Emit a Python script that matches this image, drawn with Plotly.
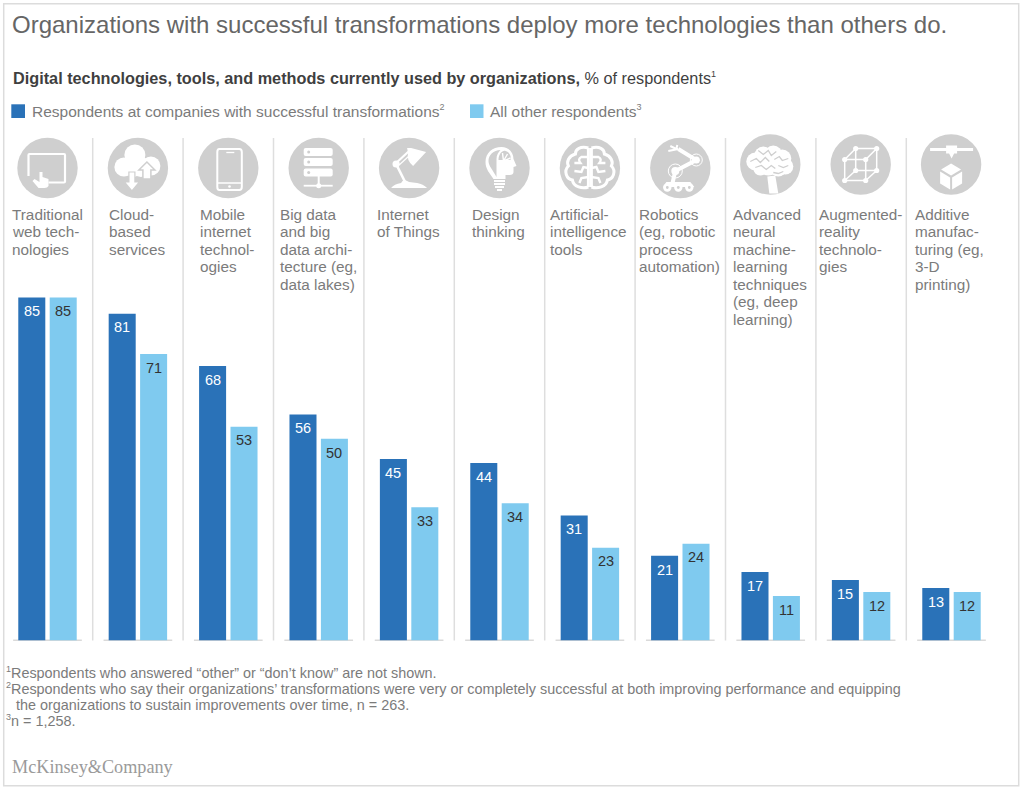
import re
import plotly.graph_objects as go

# ---------- data ----------
category_lines = [
    ["Traditional", "web tech-", "nologies"],
    ["Cloud-", "based", "services"],
    ["Mobile", "internet", "technol-", "ogies"],
    ["Big data", "and big", "data archi-", "tecture (eg,", "data lakes)"],
    ["Internet", "of Things"],
    ["Design", "thinking"],
    ["Artificial-", "intelligence", "tools"],
    ["Robotics", "(eg, robotic", "process", "automation)"],
    ["Advanced", "neural", "machine-", "learning", "techniques", "(eg, deep", "learning)"],
    ["Augmented-", "reality", "technolo-", "gies"],
    ["Additive", "manufac-", "turing (eg,", "3-D", "printing)"],
]
successful = [85, 81, 68, 56, 45, 44, 31, 21, 17, 15, 13]
others = [85, 71, 53, 50, 33, 34, 23, 24, 11, 12, 12]
SUP = '<sup><span style="font-size:9px">%s</span></sup>'
series_names = [
    "Respondents at companies with successful transformations" + SUP % "2",
    "All other respondents" + SUP % "3",
]
title_text = "Organizations with successful transformations deploy more technologies than others do."
subtitle_text = "<b>Digital technologies, tools, and methods currently used by organizations,</b> % of respondents" + SUP % "1"
footnotes = [
    SUP % "1" + "Respondents who answered “other” or “don’t know” are not shown.",
    SUP % "2" + "Respondents who say their organizations’ transformations were very or completely successful at both improving performance and equipping",
    " the organizations to sustain improvements over time, n = 263.",
    SUP % "3" + "n = 1,258.",
]
source_text = "McKinsey&Company"

# ---------- layout constants ----------
W, H = 1024, 790
DARK, LIGHT = "#2a72b8", "#7fcaef"
GREY = "#7b7b7b"
ICON = "#cfcfcf"
FONT = "Liberation Sans"
BASE_Y = 640.5
PX_PER_UNIT = 4.035
Y_MAX = 90
PLOT_L, PLOT_R = 2.3, 996.7
BAR_LABEL_XSHIFT = 15.7
BAR_LABEL_YSHIFT = -13.8
label_x = [12, 109, 199.5, 279.5, 377, 472, 550, 639, 732.5, 818.5, 915]
icon_cx = [47.5, 137.9, 228.3, 318.7, 409.1, 499.5, 589.9, 680.3, 770.3, 860.7, 951.1]
icon_cy = [168, 168, 168, 168, 168, 168, 168, 168, 164.5, 164.5, 164.5]

categories = [" ".join(l) for l in category_lines]


def px(x):
    return x / W


def py(y):
    return 1 - y / H


def text(x, y, s, size=14, color=GREY, family=FONT):
    return dict(
        xref="paper", yref="paper", x=px(x), y=py(y), text=s, showarrow=False,
        xanchor="left", yanchor="middle", align="left",
        font=dict(size=size, color=color, family=family), borderpad=0, borderwidth=0,
    )


shapes, annotations = [], []


def rect_px(x0, y0, x1, y1, fill):
    shapes.append(dict(type="rect", xref="paper", yref="paper", x0=px(x0), x1=px(x1),
                       y0=py(y0), y1=py(y1), fillcolor=fill, line=dict(width=0)))


# ---------- icon drawing helpers ----------
def path(cx, cy, d, fill=None, stroke=None, w=1.5):
    toks = re.findall(r"[MLCQZ]|-?\d+\.?\d*", d)
    s, is_x = "", True
    for t in toks:
        if t in "MLCQZ":
            s += t
            is_x = True
        elif is_x:
            s += f" {px(cx + float(t)):.5f}"
            is_x = False
        else:
            s += f" {py(cy + float(t)):.5f} "
            is_x = True
    shapes.append(dict(type="path", xref="paper", yref="paper", path=s,
                       fillcolor=fill if fill else "rgba(0,0,0,0)",
                       line=dict(color=stroke if stroke else "rgba(0,0,0,0)", width=w if stroke else 0)))


def circ(cx, cy, x, y, r, fill=None, stroke=None, w=1.5):
    shapes.append(dict(type="circle", xref="paper", yref="paper",
                       x0=px(cx + x - r), x1=px(cx + x + r), y0=py(cy + y - r), y1=py(cy + y + r),
                       fillcolor=fill if fill else "rgba(0,0,0,0)",
                       line=dict(color=stroke if stroke else "rgba(0,0,0,0)", width=w if stroke else 0)))


WH = "white"


def icon_tablet(c, y):
    path(c, y, "M -19 8 L -19 -13 Q -19 -14 -18 -14 L 16.5 -14 Q 17.5 -14 17.5 -13 L 17.5 13.5 Q 17.5 14.5 16.5 14.5 L 1 14.5", stroke=WH, w=2.2)
    path(c, y, "M -8 4 L -5 4 L -5 9 L 1 11 L 1 18 Q 0 20 -3 20 L -9 20 L -15 13 L -13 11 L -8 14 Z", fill=WH)


def icon_cloud(c, y):
    for (a, b, r) in [(-3, -13, 10.5), (-14, -1, 9.5), (13, -2, 9.5), (3, -1, 10), (-5, 1, 8)]:
        circ(c, y, a, b, r, fill=WH)
    path(c, y, "M 9 -6 L 17 2 L 13 2 L 13 11 L 5 11 L 5 2 L 1 2 Z", fill=WH, stroke=ICON, w=1.5)
    path(c, y, "M -9 4 L -3 4 L -3 14 L 1.5 14 L -6 23 L -13.5 14 L -9 14 Z", fill=WH, stroke=ICON, w=1.2)


def icon_phone(c, y):
    path(c, y, "M -9 -19 L 11 -19 Q 13.5 -19 13.5 -16 L 13.5 19 Q 13.5 22 11 22 L -9 22 Q -11 22 -11 19 L -11 -16 Q -11 -19 -9 -19 Z", stroke=WH, w=2)
    path(c, y, "M -2 -15.5 L 6 -15.5", stroke=WH, w=1.3)
    path(c, y, "M -11 15 L 13 15", stroke=WH, w=1.5)
    circ(c, y, 1.2, 18.5, 1.3, fill=WH)


def icon_server(c, y):
    for top in (-20, -10, 0.5):
        path(c, y, f"M -13 {top} L 12 {top} Q 14 {top} 14 {top + 2} L 14 {top + 6} Q 14 {top + 8} 12 {top + 8} L -13 {top + 8} Q -15 {top + 8} -15 {top + 6} L -15 {top + 2} Q -15 {top} -13 {top} Z", fill=WH)
        circ(c, y, -10, top + 4, 1.5, fill=ICON)
    path(c, y, "M 0 8 L 0 18", stroke=WH, w=2)
    path(c, y, "M -15 17.7 L 14 17.7", stroke=WH, w=1.8)
    circ(c, y, 0, 17.7, 2.5, fill=WH)


def icon_lamp(c, y):
    path(c, y, "M -18 20 L 18 20 Q 14 16 8 15 L 0 14 Q -6 10 -8 15 Q -15 16 -18 20 Z", fill=WH)
    path(c, y, "M -4 14 L -13 -4", stroke=WH, w=2.6)
    path(c, y, "M -13 -5 L 0 -17", stroke=WH, w=2.2)
    path(c, y, "M -10 -3 L 1 -13", stroke=WH, w=1.2)
    circ(c, y, -13, -4, 3.6, fill=WH)
    path(c, y, "M -2 -20 L 2 -20 L 17 -16 L 4 -2 Q -3 -8 -1 -15 Z", fill=WH)


def icon_head(c, y):
    path(c, y, "M -6 11 C -10 5 -14 1 -14 -6 C -14 -15 -7 -21 2 -21 C 10 -21 14 -15 14 -9 L 17 -2 L 14 -1 L 14 4 Q 14 7 10 7 L 6 7 L 6 11 Z", fill=WH)
    path(c, y, "M -3 9 L -3 -9 C -3 -13 -1 -16 1 -18 C -6 -18 -11 -13 -11 -7 C -11 -2 -6 3 -3 9 Z", fill=ICON)
    path(c, y, "M -1 -8 C -1 -14 3 -18 6 -17 C 10 -16 12 -12 11 -8 Z", fill=ICON)
    path(c, y, "M 4 -7 L 3 -15 M 4 -7 L 8 -14 M 4 -7 L 11 -10", stroke=WH, w=1.4)
    for (t, wd) in [(13, 5.5), (16, 5.5), (19, 4.5), (22, 2.5)]:
        path(c, y, f"M {-wd} {t} L {wd} {t}", stroke=WH, w=2)


def icon_ai_brain(c, y):
    for s in (-1, 1):
        ox = 1.5 * s
        m = lambda v: ox + s * v
        p = (f"M {m(0)} -20 C {m(8)} -22 {m(13)} -19 {m(13)} -14 C {m(20)} -12 {m(22)} -6 {m(20)} -2 "
             f"C {m(25)} 3 {m(22)} 11 {m(16)} 12 C {m(15)} 19 {m(6)} 21 {m(0)} 19")
        path(c, y, p, stroke=WH, w=3)
        path(c, y, f"M {m(0)} -20 L {m(0)} 19", stroke=WH, w=3)
        path(c, y, f"M {m(0)} -11 L {m(7)} -11 Q {m(11)} -9 {m(8)} -5 L {m(14)} -5", stroke=WH, w=2.4)
        path(c, y, f"M {m(0)} 0 L {m(5)} -1 L {m(7)} 4 L {m(14)} 3", stroke=WH, w=2.4)
        path(c, y, f"M {m(0)} 9 L {m(7)} 10 L {m(9)} 15", stroke=WH, w=2.4)


def icon_robot(c, y):
    path(c, y, "M -8 16 L -5 3 L 16 -8 L -2 -19", stroke=WH, w=4)
    circ(c, y, -5, 3, 4, fill=WH)
    circ(c, y, -5, 3, 7, stroke=WH, w=1)
    circ(c, y, 16, -8, 3.5, fill=WH)
    circ(c, y, 16, -8, 6, stroke=WH, w=1)
    path(c, y, "M -2 -19 L -12 -17 M -3 -23 L -4 -19 L -10 -22", stroke=WH, w=2)
    path(c, y, "M -14 14 L 10 14 L 14 19 L -17 19 Z", fill=WH)
    for a in (-13, -2, 9):
        circ(c, y, a, 19.5, 4.2, fill=WH)
        circ(c, y, a, 19.5, 1.4, fill=ICON)


def icon_neural_brain(c, y):
    for (a, b, r) in [(-15, -3, 9), (-7, -9, 9), (3, -10, 9), (12, -6, 9), (15, 2, 8), (-2, 0, 11), (8, 4, 8), (-10, 4, 7)]:
        circ(c, y, a, b, r, fill=WH)
    path(c, y, "M -3 12 L 5 11 L 8 29 L -1 29 Z", fill=WH)
    path(c, y, "M -20 -3 L -14 -6 L -10 -2 L -5 -7 L -1 -3 M -12 -14 L -7 -10 L -2 -14 L 1 -9 L 6 -13 M 4 -5 L 9 -8 L 12 -4 L 18 -6 M -15 3 L -9 1 L -4 5 L 1 1 L 5 4 M 8 1 L 13 3 L 18 1 M 3 8 L 8 9 L 13 7", stroke=ICON, w=1.3)


def icon_cube(c, y):
    front = [(-16, -5), (5, -5), (5, 16), (-16, 16)]
    back = [(-5, -16), (16, -16), (16, 6), (-5, 6)]
    for poly in (front, back):
        d = "M " + " L ".join(f"{a} {b}" for a, b in poly) + " Z"
        path(c, y, d, stroke=WH, w=1.5)
    for (a, b), (e, f) in zip(front, back):
        path(c, y, f"M {a} {b} L {e} {f}", stroke=WH, w=1.5)
    for a, b in front + back:
        circ(c, y, a, b, 2.6, fill=WH)


def icon_printer(c, y):
    path(c, y, "M -21 -15 L 22 -15", stroke=WH, w=3)
    path(c, y, "M -5 -19 L 6 -19 L 6 -11 L 3 -11 L 0.5 -6 L -2 -11 L -5 -11 Z", fill=WH)
    path(c, y, "M 0 -1 L 10 5 L 0 11 L -10 5 Z", fill=WH)
    path(c, y, "M -11 7 L -1 13 L -1 25 L -11 19 Z", fill=WH)
    path(c, y, "M 11 7 L 1 13 L 1 25 L 11 19 Z", fill=WH)


icon_painters = [icon_tablet, icon_cloud, icon_phone, icon_server, icon_lamp, icon_head,
                 icon_ai_brain, icon_robot, icon_neural_brain, icon_cube, icon_printer]

# ---------- frame ----------
shapes.append(dict(type="rect", xref="paper", yref="paper", x0=px(3.7), x1=px(1018.7), y0=py(3.7), y1=py(785.7),
                   fillcolor="rgba(0,0,0,0)", line=dict(color="#dcdcdc", width=1.5), layer="below"))

# ---------- separators and baselines ----------
for i in range(len(categories) - 1):
    shapes.append(dict(type="line", xref="x", yref="paper", x0=i + 0.5, x1=i + 0.5,
                       y0=py(BASE_Y), y1=py(138), line=dict(color="#dedede", width=1.5), layer="below"))
for i in range(len(categories)):
    shapes.append(dict(type="line", xref="x", yref="y", x0=i - 0.38, x1=i + 0.38, y0=0, y1=0,
                       line=dict(color="#b5b5b5", width=1.5), layer="below"))

# ---------- icons and category labels ----------
for i, lines in enumerate(category_lines):
    circ(icon_cx[i], icon_cy[i], 0, 0, 30.2, fill=ICON)
    icon_painters[i](icon_cx[i], icon_cy[i])
    for j, line in enumerate(lines):
        annotations.append(text(label_x[i], 214.4 + j * 17.5, line, size=15.3))

# ---------- bar value labels (placed from the data through the axes) ----------
for values, sign, color in ((successful, -1, "white"), (others, 1, "#333333")):
    for cat, v in zip(categories, values):
        annotations.append(dict(
            xref="x", yref="y", x=cat, y=v, text=str(v), showarrow=False,
            xanchor="center", yanchor="middle", xshift=sign * BAR_LABEL_XSHIFT, yshift=BAR_LABEL_YSHIFT,
            font=dict(size=14.5, color=color, family=FONT),
        ))

# ---------- titles ----------
annotations.append(text(11.5, 25, title_text, size=24, color="#666666"))
annotations.append(text(13, 78.5, subtitle_text, size=16.25, color="#3f3f3f"))

# ---------- key ----------
rect_px(11.3, 104.3, 25, 118, DARK)
rect_px(470, 104.3, 483.5, 118, LIGHT)
annotations.append(text(31.5, 111.5, series_names[0], size=15.5))
annotations.append(text(490, 111.5, series_names[1], size=15.5))

# ---------- footnotes ----------
for k, (x, y) in enumerate([(6, 672.5), (6, 688.7), (11.5, 705), (6, 720.7)]):
    annotations.append(text(x, y, footnotes[k], size=14.4))
annotations.append(text(12, 767, source_text, size=18.2, color="#9a9a9a", family="Liberation Serif"))

# ---------- figure ----------
fig = go.Figure()
fig.add_bar(x=categories, y=successful, name=series_names[0], marker=dict(color=DARK, line=dict(width=0)))
fig.add_bar(x=categories, y=others, name=series_names[1], marker=dict(color=LIGHT, line=dict(width=0)))

fig.update_layout(
    width=W, height=H, margin=dict(l=0, r=0, t=0, b=0), autosize=False,
    paper_bgcolor="white", plot_bgcolor="rgba(0,0,0,0)", showlegend=False,
    barmode="group", bargap=0.305, bargroupgap=0.14,
    shapes=shapes, annotations=annotations,
    font=dict(family=FONT, color=GREY),
    xaxis=dict(domain=[px(PLOT_L), px(PLOT_R)], type="category", categoryorder="array", categoryarray=categories,
               range=[-0.5, len(categories) - 0.5], visible=False),
    yaxis=dict(domain=[py(BASE_Y), py(BASE_Y - PX_PER_UNIT * Y_MAX)], range=[0, Y_MAX], visible=False),
)

fig.write_html(
    "out.html",
    config={"displayModeBar": False},
    post_script="document.documentElement.style.margin='0';document.body.style.margin='0';document.body.style.overflow='hidden';",
)
